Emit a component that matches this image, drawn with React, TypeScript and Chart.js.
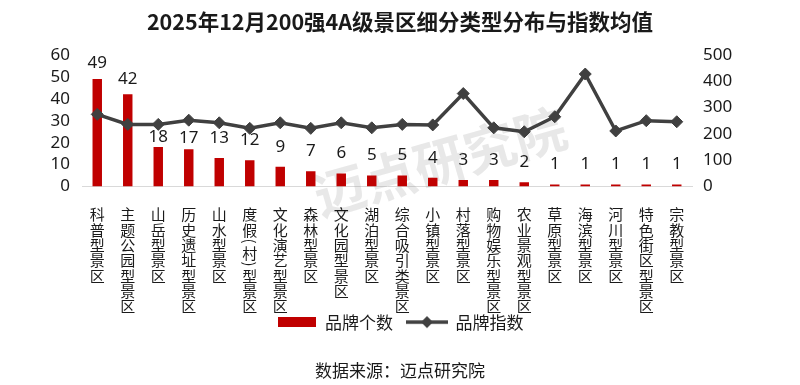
import React, { useEffect, useRef } from 'react';
import { Chart, registerables } from 'chart.js';

Chart.register(...registerables);

const title = '2025年12月200强4A级景区细分类型分布与指数均值';
const source = '数据来源：迈点研究院';
const categories = [
  '科普型景区', '主题公园型景区', '山岳型景区', '历史遗址型景区', '山水型景区',
  '度假(村)型景区', '文化演艺型景区', '森林型景区', '文化园型景区', '湖泊型景区',
  '综合吸引类景区', '小镇型景区', '村落型景区', '购物娱乐型景区', '农业景观型景区',
  '草原型景区', '海滨型景区', '河川型景区', '特色街区型景区', '宗教型景区',
];
const brandCounts = [49, 42, 18, 17, 13, 12, 9, 7, 6, 5, 5, 4, 3, 3, 2, 1, 1, 1, 1, 1];
const brandIndex = [274, 236, 236, 252, 242, 221, 242, 221, 242, 223, 236, 234, 353, 223, 208, 265, 427, 211, 250, 246];
const seriesNames = ['品牌个数', '品牌指数'];
const leftAxis = { min: 0, max: 60, step: 10 };
const rightAxis = { min: 0, max: 500, step: 100 };

const RED = '#c00000';
const GREY = '#404040';
const TEXT = '#1a1a1a';
const FONT = "'Noto Sans', 'Noto Sans CJK SC', sans-serif";
const CJK = "'Noto Sans CJK SC', sans-serif";

function rectIcon() {
  const c = document.createElement('canvas');
  c.width = 38; c.height = 10;
  const g = c.getContext('2d')!;
  g.fillStyle = RED;
  g.fillRect(0, 0, 38, 10);
  return c;
}
function lineIcon() {
  const c = document.createElement('canvas');
  c.width = 42; c.height = 14;
  const g = c.getContext('2d')!;
  g.strokeStyle = GREY; g.lineWidth = 3.5;
  g.beginPath(); g.moveTo(0, 7); g.lineTo(42, 7); g.stroke();
  g.fillStyle = GREY;
  g.beginPath(); g.moveTo(21, 1); g.lineTo(27, 7); g.lineTo(21, 13); g.lineTo(15, 7); g.closePath(); g.fill();
  return c;
}

const labelNudge: Record<number, number> = { 0: 16, 1: 15, 2: 10, 3: 11 };

const barLabels = {
  id: 'barLabels',
  afterDatasetsDraw(chart: any) {
    const meta = chart.getDatasetMeta(0);
    const ctx = chart.ctx;
    ctx.save();
    ctx.font = `17px ${FONT}`;
    ctx.fillStyle = TEXT;
    ctx.textAlign = 'center';
    ctx.textBaseline = 'middle';
    meta.data.forEach((bar: any, i: number) => {
      const off = labelNudge[i] ?? 20;
      ctx.fillText(String(brandCounts[i]), bar.x, bar.y - off);
    });
    ctx.restore();
  },
};

const verticalLabels = {
  id: 'verticalLabels',
  afterDraw(chart: any) {
    const xs = chart.scales.x;
    const ctx = chart.ctx;
    const step = 15.3;
    ctx.save();
    ctx.font = `15px ${CJK}`;
    ctx.fillStyle = TEXT;
    ctx.textAlign = 'center';
    ctx.textBaseline = 'middle';
    categories.forEach((label, i) => {
      const cx = xs.getPixelForValue(i);
      let y = xs.top + 20;
      for (const ch of label) {
        if (ch === '(' || ch === ')') {
          const h = step / 2;
          ctx.save();
          ctx.translate(cx, y + h / 2);
          ctx.rotate(Math.PI / 2);
          ctx.fillText(ch, 0, 0);
          ctx.restore();
          y += h;
        } else {
          ctx.fillText(ch, cx, y + step / 2 + 0.5);
          y += step;
        }
      }
    });
    ctx.restore();
  },
};

const watermark = {
  id: 'watermark',
  beforeDatasetsDraw(chart: any) {
    const ctx = chart.ctx;
    const w = chart.width, h = chart.height;
    ctx.save();
    ctx.translate(w * 0.55, h * 0.42);
    ctx.rotate(-16 * Math.PI / 180);
    ctx.font = `bold 52px ${CJK}`;
    ctx.fillStyle = 'rgba(150,150,150,0.22)';
    ctx.textAlign = 'center';
    ctx.textBaseline = 'middle';
    ctx.fillText('迈点研究院', 0, 0);
    ctx.restore();
  },
};

export default function App() {
  const ref = useRef<HTMLCanvasElement>(null);
  useEffect(() => {
    if (!ref.current) return;
    const icons = [rectIcon(), lineIcon()];
    const chart = new Chart(ref.current, {
      data: {
        labels: categories,
        datasets: [
          {
            type: 'bar',
            label: seriesNames[0],
            data: brandCounts,
            backgroundColor: RED,
            yAxisID: 'y',
            barPercentage: 0.31,
            categoryPercentage: 1,
            order: 2,
          },
          {
            type: 'line',
            label: seriesNames[1],
            data: brandIndex,
            borderColor: GREY,
            backgroundColor: GREY,
            borderWidth: 3.5,
            pointStyle: 'rectRot',
            pointRadius: 6,
            pointBorderWidth: 1,
            yAxisID: 'y1',
            tension: 0,
            order: 1,
          },
        ],
      } as any,
      options: {
        animation: false,
        responsive: true,
        maintainAspectRatio: false,
        layout: { padding: 0 },
        plugins: {
          tooltip: { enabled: false },
          title: {
            display: true,
            text: title,
            color: TEXT,
            font: { family: CJK, size: 21.5, weight: 'bold' },
            padding: { top: 9, bottom: 20 },
          },
          subtitle: {
            display: true,
            position: 'bottom',
            text: source,
            color: TEXT,
            font: { family: CJK, size: 17 },
            padding: { top: 20, bottom: 4 },
          },
          legend: {
            position: 'bottom',
            labels: {
              usePointStyle: true,
              pointStyleWidth: 40,
              padding: 14,
              color: TEXT,
              font: { family: CJK, size: 17 },
              generateLabels: () =>
                seriesNames.map((name, i) => ({
                  text: name,
                  pointStyle: icons[i],
                  fillStyle: i === 0 ? RED : GREY,
                  strokeStyle: i === 0 ? RED : GREY,
                  lineWidth: 0,
                  hidden: false,
                  datasetIndex: i,
                  fontColor: TEXT,
                })) as any,
            },
          },
        },
        scales: {
          x: {
            grid: { display: false, drawTicks: false },
            border: { display: true, color: '#d9d9d9', width: 1 },
            ticks: { display: false },
            afterFit: (s: any) => { s.height = 113; },
          },
          y: {
            position: 'left',
            min: leftAxis.min,
            max: leftAxis.max,
            grid: { display: false, drawTicks: false },
            border: { display: false },
            ticks: { stepSize: leftAxis.step, autoSkip: false, padding: 12, color: TEXT, font: { family: FONT, size: 17 } },
            afterFit: (s: any) => { s.width = 82; },
          },
          y1: {
            position: 'right',
            min: rightAxis.min,
            max: rightAxis.max,
            grid: { display: false, drawTicks: false },
            border: { display: false },
            ticks: { stepSize: rightAxis.step, autoSkip: false, padding: 11, color: TEXT, font: { family: FONT, size: 17 } },
            afterFit: (s: any) => { s.width = 108; },
          },
        },
      } as any,
      plugins: [watermark, barLabels, verticalLabels],
    });
    return () => chart.destroy();
  }, []);
  return (
    <div style={{ position: 'fixed', left: 0, top: 0, width: 800, height: 385, background: '#fff' }}>
      <canvas ref={ref} />
    </div>
  );
}
